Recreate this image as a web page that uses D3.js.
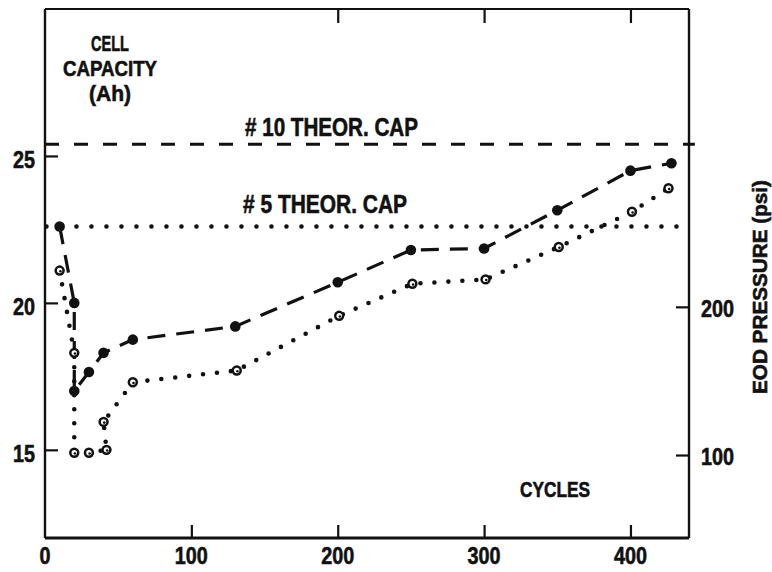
<!DOCTYPE html>
<html>
<head>
<meta charset="utf-8">
<script src="https://cdn.jsdelivr.net/npm/d3@7"></script>
<style>
  html, body { margin: 0; padding: 0; background: #fff; }
  svg { display: block; }
  text { font-family: "Liberation Sans", Arial, sans-serif; font-weight: bold; fill: #111; stroke: #111; stroke-width: 0.6px; }
</style>
</head>
<body>
<svg id="chart" width="772" height="572"></svg>
<script>
// ---- data ----
const cell10Cycles = [10, 20, 20, 30, 40, 60, 130, 200, 250, 300, 350, 400, 428];
const cell10Capacity = [22.6, 20.0, 17.0, 17.65, 18.3, 18.75, 19.2, 20.7, 21.8, 21.85, 23.15, 24.5, 24.75];
const cell5Cycles = [10, 20, 20, 30, 42, 40, 60, 131, 201, 251, 301, 351, 401, 426];
const cell5Capacity = [21.1, 18.3, 14.9, 14.9, 15.0, 15.95, 17.3, 17.7, 19.56, 20.65, 20.8, 21.9, 23.1, 23.9];
const theor10 = 25.4;
const theor5 = 22.6;
const xTicks = [0, 100, 200, 300, 400];
const xTopTicks = [200, 300, 400];
const yTicks = [15, 20, 25];
const psiTicks = [100, 200];
const yTitleLines = ["CELL", "CAPACITY", "(Ah)"];
const theor10Label = "# 10 THEOR. CAP";
const theor5Label = "# 5 THEOR. CAP";
const xTitle = "CYCLES";
const psiTitle = "EOD PRESSURE (psi)";

// ---- scales ----
const x = d3.scaleLinear().domain([0, 440]).range([45, 689]);
const y = d3.scaleLinear().domain([12, 30]).range([538, 9]);
const yPsi = d3.scaleLinear().domain([44, 401]).range([538, 9]);

const svg = d3.select("#chart");
const ink = "#111";
const digitW = 11; // condensed digit width

// ---- frame ----
const frame = svg.append("g").attr("stroke", ink).attr("fill", "none");
frame.append("line").attr("x1", x(0)).attr("x2", x(0)).attr("y1", y(30)).attr("y2", y(12)).attr("stroke-width", 2.4);
frame.append("line").attr("x1", x(0)).attr("x2", x(440)).attr("y1", y(12)).attr("y2", y(12)).attr("stroke-width", 2.8);
frame.append("line").attr("x1", x(440)).attr("x2", x(440)).attr("y1", y(30)).attr("y2", y(12)).attr("stroke-width", 2.4);
frame.append("line").attr("x1", x(0)).attr("x2", x(440)).attr("y1", y(30)).attr("y2", y(30)).attr("stroke-width", 2.2);

// ---- axes (inward ticks) ----
const axLeft = svg.append("g").attr("transform", `translate(${x(0)},0)`)
  .call(d3.axisRight(y).tickValues(yTicks).tickSize(13).tickFormat(""));
const axBottom = svg.append("g").attr("transform", `translate(0,${y(12)})`)
  .call(d3.axisTop(x).tickValues(xTicks.filter(d => d > 0)).tickSize(13).tickFormat(""));
const axTop = svg.append("g").attr("transform", `translate(0,${y(30)})`)
  .call(d3.axisBottom(x).tickValues(xTopTicks).tickSize(14).tickFormat(""));
const axRight = svg.append("g").attr("transform", `translate(${x(440)},0)`)
  .call(d3.axisLeft(yPsi).tickValues(psiTicks).tickSize(13).tickFormat(""));
[axLeft, axBottom, axTop, axRight].forEach(g => {
  g.select(".domain").remove();
  g.selectAll(".tick line").attr("stroke", ink).attr("stroke-width", 2.2);
});

// tick labels
svg.append("g").selectAll("text").data(yTicks).join("text")
  .attr("x", 35).attr("y", d => y(d) + 12)
  .attr("text-anchor", "end").attr("font-size", 24)
  .attr("textLength", d => String(d).length * digitW).attr("lengthAdjust", "spacingAndGlyphs")
  .text(d => d);
svg.append("g").selectAll("text").data(xTicks).join("text")
  .attr("x", d => x(d)).attr("y", 564)
  .attr("text-anchor", "middle").attr("font-size", 24)
  .attr("textLength", d => String(d).length * digitW).attr("lengthAdjust", "spacingAndGlyphs")
  .text(d => d);
svg.append("g").selectAll("text").data(psiTicks).join("text")
  .attr("x", 701).attr("y", d => yPsi(d) + 10)
  .attr("text-anchor", "start").attr("font-size", 24)
  .attr("textLength", d => String(d).length * digitW).attr("lengthAdjust", "spacingAndGlyphs")
  .text(d => d);

// titles
const yTitleW = [38, 94, 42];
svg.append("g").selectAll("text").data(yTitleLines).join("text")
  .attr("x", 110).attr("y", (d, i) => 51 + i * 25)
  .attr("text-anchor", "middle").attr("font-size", 22)
  .attr("textLength", (d, i) => yTitleW[i]).attr("lengthAdjust", "spacingAndGlyphs")
  .text(d => d);
svg.append("text").attr("x", 520).attr("y", 497).attr("font-size", 22)
  .attr("textLength", 70).attr("lengthAdjust", "spacingAndGlyphs").text(xTitle);
svg.append("text").attr("transform", "translate(767,287) rotate(-90)")
  .attr("text-anchor", "middle").attr("font-size", 21)
  .attr("textLength", 214).attr("lengthAdjust", "spacingAndGlyphs").text(psiTitle);

// ---- theoretical capacity lines ----
svg.append("line").attr("x1", x(0)).attr("x2", x(444)).attr("y1", y(theor10)).attr("y2", y(theor10))
  .attr("stroke", ink).attr("stroke-width", 3).attr("stroke-dasharray", "14,15");
svg.append("line").attr("x1", x(1)).attr("x2", x(435)).attr("y1", y(theor5)).attr("y2", y(theor5))
  .attr("stroke", ink).attr("stroke-width", 4.6).attr("stroke-linecap", "round").attr("stroke-dasharray", "0,15");
svg.append("text").attr("x", 245).attr("y", 136).attr("font-size", 25)
  .attr("textLength", 173).attr("lengthAdjust", "spacingAndGlyphs").text(theor10Label);
svg.append("text").attr("x", 243).attr("y", 213).attr("font-size", 25)
  .attr("textLength", 164).attr("lengthAdjust", "spacingAndGlyphs").text(theor5Label);

// ---- series ----
const s10 = cell10Cycles.map((c, i) => [c, cell10Capacity[i]]);
const s5 = cell5Cycles.map((c, i) => [c, cell5Capacity[i]]);
const line = d3.line().x(d => x(d[0])).y(d => y(d[1]));

svg.append("path").attr("d", line(s5)).attr("fill", "none").attr("stroke", ink)
  .attr("stroke-width", 4.6).attr("stroke-linecap", "round").attr("stroke-dasharray", "0,14");
svg.append("path").attr("d", line(s10)).attr("fill", "none").attr("stroke", ink)
  .attr("stroke-width", 3.2).attr("stroke-dasharray", "18,11");

svg.append("g").selectAll("circle").data(s10).join("circle")
  .attr("cx", d => x(d[0])).attr("cy", d => y(d[1])).attr("r", 5.3).attr("fill", ink);

const open = svg.append("g").selectAll("g").data(s5).join("g")
  .attr("transform", d => `translate(${x(d[0])},${y(d[1])})`);
open.append("circle").attr("r", 5.2).attr("fill", ink);
open.append("circle").attr("r", 2.7).attr("fill", "#fff");
open.append("circle").attr("cx", 0.7).attr("cy", 0.7).attr("r", 1.3).attr("fill", ink);
</script>
</body>
</html>
